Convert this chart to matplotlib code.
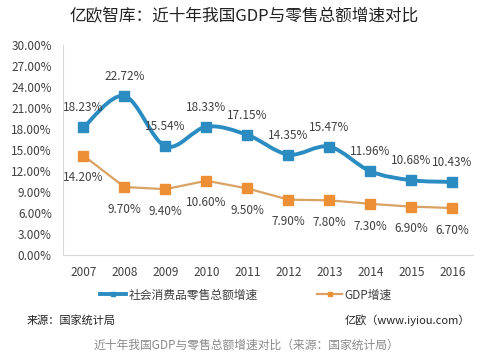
import numpy as np
import matplotlib.pyplot as plt
from matplotlib.path import Path
from matplotlib.patches import PathPatch

plt.rcParams['font.family'] = ['Noto Sans CJK SC', 'DejaVu Sans']

# 数据
years = ['2007', '2008', '2009', '2010', '2011', '2012', '2013', '2014', '2015', '2016']
retail = [18.23, 22.72, 15.54, 18.33, 17.15, 14.35, 15.47, 11.96, 10.68, 10.43]
gdp = [14.20, 9.70, 9.40, 10.60, 9.50, 7.90, 7.80, 7.30, 6.90, 6.70]
yticks = [0, 3, 6, 9, 12, 15, 18, 21, 24, 27, 30]

blue = '#2a8cc0'
orange = '#ec8f35'
text_c = '#404040'

fig = plt.figure(figsize=(4.92, 3.61), dpi=100)
ax = fig.add_axes([0.128, 0.294, 0.833, 0.581])

x = np.arange(len(years))

# 平滑曲线 (Excel 风格贝塞尔)
def smooth_path(xs, ys):
    pts = np.column_stack([xs, ys]).astype(float)
    verts = [pts[0]]
    codes = [Path.MOVETO]
    n = len(pts)
    for i in range(n - 1):
        p0 = pts[i - 1] if i > 0 else pts[i]
        p1 = pts[i]
        p2 = pts[i + 1]
        p3 = pts[i + 2] if i + 2 < n else pts[i + 1]
        c1 = p1 + (p2 - p0) / 6
        c2 = p2 - (p3 - p1) / 6
        verts += [c1, c2, p2]
        codes += [Path.CURVE4] * 3
    return Path(verts, codes)

ax.add_patch(PathPatch(smooth_path(x, retail), facecolor='none', edgecolor=blue, lw=2.8,
                       capstyle='round', zorder=3))
ax.plot(x, retail, ls='none', marker='s', ms=7.5, color=blue, zorder=4)
ax.plot(x, gdp, color='#d9a262', lw=1.6, marker='s', ms=7, mfc=orange, mec=orange, zorder=3)

for i in range(len(years)):
    ax.annotate(f'{retail[i]:.2f}%', (x[i], retail[i]), xytext=(0, 14), textcoords='offset points',
                ha='center', va='center', fontsize=8.5, color=text_c)
    ax.annotate(f'{gdp[i]:.2f}%', (x[i], gdp[i]), xytext=(0, -16), textcoords='offset points',
                ha='center', va='center', fontsize=8.5, color=text_c)

ax.set_xlim(-0.5, len(years) - 0.5)
ax.set_ylim(0, 30)
ax.set_xticks(x)
ax.set_xticklabels(years)
ax.set_yticks(yticks)
ax.set_yticklabels([f'{v:.2f}%' for v in yticks])
ax.tick_params(length=0, labelsize=8.5, colors=text_c, pad=8)
for s in ['top', 'right']:
    ax.spines[s].set_visible(False)
for s in ['left', 'bottom']:
    ax.spines[s].set_color('#d8d8d8')

# 图例
h1, = ax.plot([], [], color=blue, lw=2.8, marker='s', ms=3.5)
h2, = ax.plot([], [], color='#d9a262', lw=1.6, marker='s', ms=3.5, mfc=orange, mec=orange)
fig.legend([h1, h2], ['社会消费品零售总额增速', 'GDP增速'], loc='center', bbox_to_anchor=(0.5, 0.183),
           ncol=2, frameon=False, fontsize=8.5, handlelength=2.2, handletextpad=0.2, columnspacing=5,
           labelcolor=text_c)

fig.text(0.497, 0.953, '亿欧智库：近十年我国GDP与零售总额增速对比', ha='center', va='center',
         fontsize=12, color='#222222')
fig.text(0.055, 0.113, '来源：国家统计局', ha='left', va='center', fontsize=8, color='#222222')
fig.text(0.955, 0.113, '亿欧（www.iyiou.com）', ha='right', va='center', fontsize=8, color='#222222')
fig.text(0.5, 0.044, '近十年我国GDP与零售总额增速对比（来源：国家统计局）', ha='center', va='center',
         fontsize=8.5, color='#8a8a8a', style='italic')

fig.savefig('out.png', dpi=100)
